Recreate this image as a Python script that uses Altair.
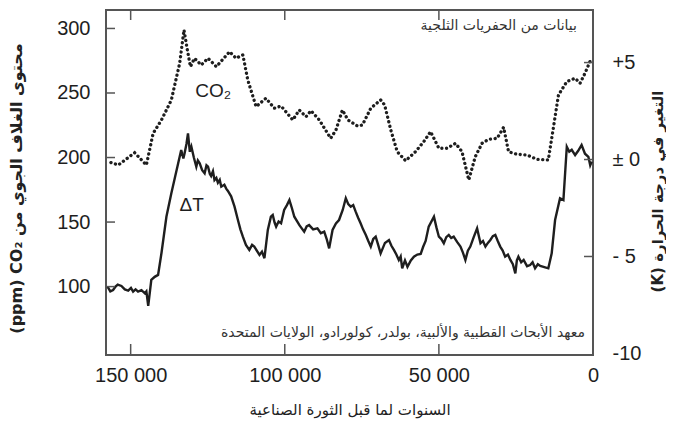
import altair as alt
import pandas as pd

# ---- data ----
co2_kyr = [157.3, 154.0, 148.7, 144.9, 142.7, 140.0, 136.8, 134.1, 132.7, 131.6, 130.6, 129.3,
           127.1, 124.9, 122.2, 117.9, 115.8, 113.6, 112.0, 109.3, 106.1, 103.4, 101.2, 97.4,
           95.3, 93.1, 91.5, 88.8, 85.1, 83.4, 81.3, 79.5, 76.4, 74.8, 72.1, 68.9, 67.6, 65.6,
           63.5, 60.8, 57.6, 54.9, 52.7, 50.0, 47.3, 44.6, 42.5, 40.3, 38.2, 36.0, 33.9, 31.1,
           29.0, 27.4, 24.7, 21.4, 18.2, 14.5, 12.8, 11.2, 8.5, 5.8, 4.2, 2.6, 1.0]
co2_ppm = [196.8, 194.2, 203.7, 194.2, 218.8, 229.1, 244.6, 273.0, 298.8, 283.3, 270.4, 276.9,
           271.7, 276.9, 270.4, 282.0, 276.9, 279.5, 260.1, 239.4, 245.9, 238.2, 239.9, 229.1,
           236.8, 231.6, 236.3, 229.1, 214.9, 221.3, 236.8, 229.1, 224.4, 225.2, 238.2, 244.6,
           240.7, 221.3, 204.5, 197.5, 204.5, 212.3, 220.0, 207.2, 207.2, 211.0, 204.5, 182.6,
           200.6, 211.0, 214.1, 214.9, 223.4, 204.5, 202.5, 202.0, 198.6, 198.1, 223.9, 248.5,
           258.8, 261.4, 257.5, 265.3, 274.3]

dt_kyr = [157.5, 156.6, 155.7, 154.9, 154.2, 153.0, 151.9, 150.8, 149.9, 149.2, 148.4, 147.6,
          146.5, 145.4, 144.9, 144.3, 143.3, 142.2, 141.1, 140.0, 138.4, 136.8, 135.6, 134.6,
          133.6, 132.9, 132.5, 131.9, 131.4, 130.8, 130.3, 129.5, 128.7, 128.2, 127.6, 126.8,
          126.0, 125.4, 124.9, 124.3, 123.9, 123.3, 122.8, 122.2, 121.7, 121.1, 120.6, 119.6,
          119.0, 118.5, 117.4, 116.3, 115.2, 114.4, 113.6, 112.6, 111.5, 110.6, 109.9, 108.2,
          107.4, 106.6, 105.5, 104.5, 103.9, 103.3, 102.8, 102.0, 101.2, 100.2, 99.3, 98.5,
          97.7, 96.9, 95.2, 93.7, 92.9, 92.1, 90.8, 89.4, 88.3, 87.2, 86.4, 85.6, 84.5, 83.4,
          82.4, 81.2, 80.2, 79.4, 78.6, 77.8, 77.0, 76.2, 75.4, 74.6, 73.7, 72.9, 72.1, 71.3,
          70.5, 69.7, 68.9, 67.5, 66.2, 65.4, 64.6, 63.8, 63.0, 62.4, 61.9, 61.0, 60.2, 59.1,
          58.1, 57.0, 55.9, 55.1, 54.3, 53.3, 51.6, 50.8, 50.0, 49.2, 48.4, 47.6, 46.8, 46.0,
          45.2, 44.1, 43.0, 42.2, 41.4, 40.6, 39.8, 38.7, 37.6, 37.1, 36.5, 35.7, 34.9, 34.1,
          33.3, 32.5, 31.7, 30.9, 30.1, 29.3, 28.5, 27.6, 26.8, 26.0, 25.2, 24.7, 24.2, 23.3,
          22.5, 21.4, 20.4, 19.6, 18.8, 17.9, 17.1, 15.8, 14.5, 13.4, 12.3, 10.7, 9.6, 8.5,
          7.7, 6.9, 5.8, 4.8, 3.7, 2.6, 1.5, 0.9, 0.4]
dt_k = [-6.56, -6.80, -6.73, -6.55, -6.45, -6.52, -6.70, -6.76, -6.62, -6.81, -6.70, -6.81,
        -6.74, -6.90, -6.80, -7.55, -6.21, -6.05, -5.95, -4.82, -2.95, -1.74, -0.90, -0.20,
        0.49, 0.05, 0.32, 0.80, 1.35, 0.40, 0.66, 0.10, -0.37, -0.05, -0.20, -0.55,
        -0.71, -0.30, -0.37, -0.75, -0.85, -0.60, -1.06, -0.95, -1.20, -1.05, -1.40, -1.30,
        -1.50, -1.61, -1.90, -2.43, -3.12, -3.60, -3.98, -4.40, -4.66, -4.40, -4.49, -4.92,
        -4.75, -5.09, -3.63, -2.95, -2.86, -3.25, -3.46, -3.20, -3.29, -2.60, -2.35, -2.09,
        -2.50, -2.95, -3.40, -3.72, -3.45, -3.38, -3.60, -3.55, -3.80, -3.72, -4.10, -4.58,
        -3.63, -3.30, -3.12, -2.60, -2.00, -2.30, -2.43, -2.35, -2.69, -3.00, -3.29, -3.60,
        -3.89, -4.20, -4.49, -4.10, -3.98, -4.40, -4.84, -4.30, -4.15, -4.45, -4.66, -4.90,
        -5.18, -5.00, -5.61, -5.20, -5.53, -5.20, -5.01, -4.90, -4.87, -4.50, -4.20, -3.46,
        -2.95, -3.50, -3.98, -4.10, -4.32, -4.00, -3.89, -4.05, -3.98, -4.25, -4.49, -4.80,
        -5.18, -4.70, -4.49, -4.00, -3.55, -3.90, -4.32, -4.20, -4.49, -4.30, -4.15, -3.95,
        -3.89, -4.20, -4.49, -4.70, -5.01, -4.90, -5.18, -5.40, -5.87, -5.20, -5.01, -5.30,
        -5.18, -5.50, -5.44, -5.30, -5.61, -5.40, -5.49, -5.55, -5.61, -4.84, -3.12, -2.00,
        -2.09, 0.66, 0.40, 0.50, 0.23, 0.45, 0.75, 0.30, 0.14, -0.30, -0.11]

x_ticks = [150000, 100000, 50000, 0]
x_inner_ticks = [150000, 100000, 50000]
co2_ticks = [100, 150, 200, 250, 300]
t_ticks = [5, 0, -5, -10]
t_inner_ticks = [5, 0, -5]

x_title = "السنوات لما قبل الثورة الصناعية"
co2_title = "(ppm) CO₂ محتوى الغلاف الجوي من"
t_title = "(K) التغير في درجة الحرارة"
note_top = "بيانات من الحفريات الثلجية"
note_bottom = "معهد الأبحاث القطبية والألبية، بولدر، كولورادو، الولايات المتحدة"

W, H = 487, 345
AR_FONT = "DejaVu Sans"
INK = "#1e1e1e"

xscale = alt.Scale(domain=[0, 158000], reverse=True, nice=False, zero=False)
cscale = alt.Scale(domain=[47.0, 314.3], nice=False, zero=False)
tscale = alt.Scale(domain=[-10.08, 7.71], nice=False, zero=False)

x_axis = alt.Axis(values=x_ticks, orient="bottom", labelPadding=10, labelFlush=False,
                  labelExpr="replace(format(datum.value, ','), ',', ' ')",
                  title=x_title, titleFont=AR_FONT, titleFontSize=15,
                  titleFontWeight="normal", titleY=54, titleBaseline="middle")


def X(field):
    return alt.X(field, type="quantitative", scale=xscale, axis=x_axis, title=x_title)


co2_df = pd.DataFrame({"year": [k * 1000 for k in co2_kyr], "ppm": co2_ppm})
dt_df = pd.DataFrame({"year": [k * 1000 for k in dt_kyr], "dt": dt_k})

co2_line = alt.Chart(co2_df).mark_line(
    color=INK, strokeWidth=3.3, strokeDash=[0.1, 4.6], strokeCap="round"
).encode(
    x=X("year"),
    y=alt.Y("ppm:Q", scale=cscale,
            axis=alt.Axis(values=co2_ticks, orient="left", labelPadding=16, labelBaseline="middle",
                          title=co2_title, titleFont=AR_FONT, titleFontSize=16,
                          titleFontWeight="bold", titleAngle=270, titleX=-90, titleY=178,
                          titleBaseline="middle", titleAlign="center")),
    order=alt.Order("year:Q"),
)

dt_line = alt.Chart(dt_df).mark_line(color=INK, strokeWidth=2.4).encode(
    x=X("year"),
    y=alt.Y("dt:Q", scale=tscale,
            axis=alt.Axis(values=t_ticks, orient="right", labelPadding=19, labelAlign="left",
                          labelBaseline="middle",
                          labelExpr="datum.value > 0 ? '+' + datum.value : (datum.value == 0 ? '± 0' : (datum.value == -5 ? '- 5' : '' + datum.value))",
                          title=t_title, titleFont=AR_FONT, titleFontSize=15,
                          titleFontWeight="bold", titleAngle=270, titleX=64, titleY=181,
                          titleBaseline="middle", titleAlign="center")),
    order=alt.Order("year:Q"),
)

tick_color = "#555"
left_ticks = alt.Chart(pd.DataFrame({"v": co2_ticks})).mark_rule(
    color=tick_color, strokeWidth=1.5).encode(
    y=alt.Y("v:Q", scale=cscale, axis=None), x=alt.value(0), x2=alt.value(9))
right_ticks = alt.Chart(pd.DataFrame({"v": t_inner_ticks})).mark_rule(color=tick_color, strokeWidth=1.5).encode(
    y=alt.Y("v:Q", scale=tscale, axis=None), x=alt.value(W - 9), x2=alt.value(W))
bottom_ticks = alt.Chart(pd.DataFrame({"year": x_inner_ticks})).mark_rule(color=tick_color, strokeWidth=1.5).encode(
    x=X("year"), y=alt.value(H - 11), y2=alt.value(H))
top_ticks = alt.Chart(pd.DataFrame({"year": x_inner_ticks})).mark_rule(color=tick_color, strokeWidth=1.5).encode(
    x=X("year"), y=alt.value(0), y2=alt.value(10))

co2_lab = alt.Chart(pd.DataFrame({"year": [123200], "ppm": [251.6], "t": ["CO₂"]})).mark_text(
    font="Liberation Sans", fontSize=19, color=INK, align="center", baseline="middle").encode(
    x=X("year"), y=alt.Y("ppm:Q", scale=cscale, axis=None), text="t:N")
dt_lab = alt.Chart(pd.DataFrame({"year": [130200], "dt": [-2.37], "t": ["ΔT"]})).mark_text(
    font="Liberation Sans", fontSize=19, color=INK, align="center", baseline="middle").encode(
    x=X("year"), y=alt.Y("dt:Q", scale=tscale, axis=None), text="t:N")
top_note = alt.Chart(pd.DataFrame({"year": [5200], "ppm": [302.0], "t": [note_top]})).mark_text(
    font=AR_FONT, fontSize=14, color="#333", align="right", baseline="middle").encode(
    x=X("year"), y=alt.Y("ppm:Q", scale=cscale, axis=None), text="t:N")
bottom_note = alt.Chart(pd.DataFrame({"year": [2600], "ppm": [64.0], "t": [note_bottom]})).mark_text(
    font=AR_FONT, fontSize=14, color="#333", align="right", baseline="middle").encode(
    x=X("year"), y=alt.Y("ppm:Q", scale=cscale, axis=None), text="t:N")

chart = alt.layer(
    co2_line, dt_line, left_ticks, right_ticks, bottom_ticks, top_ticks,
    co2_lab, dt_lab, top_note, bottom_note,
).resolve_scale(y="independent").properties(
    width=W, height=H,
    autosize=alt.AutoSizeParams(type="none"),
    padding={"left": 98, "top": 2, "right": 73, "bottom": 65},
    background="white",
).configure_view(stroke="#555", strokeWidth=2).configure_axis(
    domain=False, grid=False, ticks=False, tickSize=0,
    labelFont="Liberation Sans", labelFontSize=20, labelColor=INK, titleColor="#222",
)

chart.save("out.html", embed_options={"renderer": "svg", "actions": False})
